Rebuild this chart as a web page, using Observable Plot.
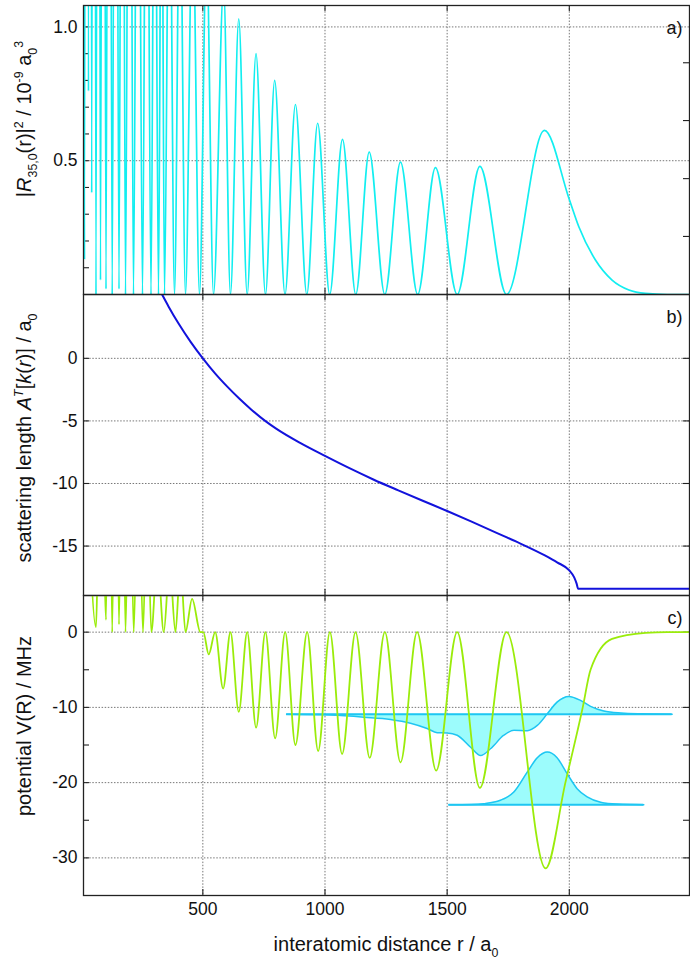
<!DOCTYPE html>
<html>
<head>
<meta charset="utf-8">
<script src="https://cdn.jsdelivr.net/npm/d3@7"></script>
<script src="https://cdn.jsdelivr.net/npm/@observablehq/plot@0.6"></script>
<style>
  body { margin: 0; background: #fff; }
  #chart { width: 690px; height: 960px; }
  #chart svg { display: block; overflow: visible; }
</style>
</head>
<body>
<div id="chart"></div>
<script>
// ---- shared x axis (interatomic distance r in a0) ----
const xDomain = [11.5, 2492];
const xTicks = [500, 1000, 1500, 2000];

// ---- a) |R_35,0(r)|^2 : extrema of the radial density (r, value) ----
const radialR = [11, 15.6, 24, 31.9, 38, 45, 54, 62.6, 72, 81, 92, 103.6, 116, 129, 143, 156.8, 170, 183.4,
  200, 216.1, 234, 253, 270, 287.8, 303, 318.5, 331, 343, 363, 384, 406, 429, 458, 486.3, 515, 543.6,
  585, 613, 647, 681.5, 717.6, 756.4, 794, 836.3, 879, 925.5, 970, 1019.2, 1071.6, 1126, 1181, 1244.8,
  1309, 1379.4, 1452, 1541.1, 1634, 1743, 1898, 2000, 2039, 2107, 2175, 2244, 2312, 2400, 2492];
const radialP = [6, 0.13, 7, 0.76, 6.5, 0.38, 6, 0, 5.5, 0.054, 5, 0.02, 4.5, 0, 4, 0.02, 3.6, 0,
  3.2, 0, 2.8, 0, 2.5, 0, 2.2, 0, 2.0, 0, 1.8, 0, 1.6, 0, 1.45, 0, 1.3, 0,
  1.15, 0, 1.03, 0, 0.90, 0, 0.80, 0, 0.71, 0, 0.64, 0, 0.58, 0, 0.532, 0,
  0.495, 0, 0.474, 0, 0.479, 0, 0.613, 0.355, 0.253, 0.129, 0.054, 0.017, 0.004, 0, 0];
const aTicksLabeled = [0.5, 1.0];
const aTicksLeft = [0.1, 0.2, 0.3, 0.4, 0.5, 0.6, 0.7, 0.8, 0.9, 1.0];
const aTicksRight = [0.217, 0.433, 0.65, 0.866];

// ---- b) scattering length A^T[k(r)] in a0 ----
const scatR = [333, 360, 400, 450, 500, 550, 600, 650, 700, 755, 800, 900, 1000, 1100, 1200, 1300,
  1400, 1500, 1600, 1700, 1800, 1900, 1950, 2000, 2020, 2030, 2036, 2492];
const scatA = [5.1, 4.13, 2.8, 1.32, 0, -1.2, -2.26, -3.23, -4.12, -5.0, -5.62, -6.78, -7.8, -8.78, -9.7, -10.55,
  -11.38, -12.2, -13.05, -13.92, -14.8, -15.75, -16.3, -16.95, -17.5, -18.0, -18.41, -18.41];
const bTicks = [0, -5, -10, -15];

// ---- c) potential V(R) in MHz, extrema and shoulder points ----
const potR = [11, 62.6, 83, 103.6, 116, 129, 143, 156.8, 170, 183.4, 200, 217, 236, 255, 272, 289, 314, 340,
  364, 388, 408, 429, 456, 490, 502, 524, 550.5, 583, 613, 647, 681.5, 718, 756, 796, 837, 879, 927,
  972, 1020, 1070, 1125, 1183, 1245, 1309, 1377, 1455, 1541, 1634, 1743, 1903, 1984, 2055, 2087,
  2175, 2312, 2400, 2492];
const potV = [40, 0.66, 40, 1.64, 40, 0, 40, 1.02, 35, 0, 30, 0, 25, 0, 20, 0, 10, 0,
  9, 0, 9, 0, 4.43, 0, 0, -2.95, 0, -7.5, 0, -10.6, 0, -12.7, 0, -14.1, 0, -15.0, 0,
  -15.8, 0, -16.2, 0, -16.7, 0, -17.3, 0, -18.4, 0, -20.7, 0, -31.4, -20, -10, -5,
  -0.9, -0.1, 0, 0];
const cTicksLabeled = [0, -10, -20, -30];
const cTicksAll = [0, -5, -10, -15, -20, -25, -30];

// wave packets drawn on top of the potential, each about its own energy level
const packet1Level = -10.9;
const packet1R = [843, 1022, 1159, 1268, 1350, 1418, 1459, 1500, 1541, 1596, 1637, 1677, 1732, 1773,
  1828, 1869, 1910, 1950, 1998, 2046, 2087, 2141, 2210, 2292, 2421];
const packet1V = [-10.9, -11.02, -11.3, -11.6, -12.1, -12.8, -13.36, -13.4, -13.7, -15.3, -16.4, -15.5, -13.7, -13.05,
  -13.1, -12.4, -10.85, -9.3, -8.54, -9.07, -9.87, -10.49, -10.75, -10.85, -10.9];
const packet2Level = -22.93;
const packet2R = [1507, 1600, 1650, 1718, 1773, 1828, 1869, 1910, 1950, 1991, 2032, 2073, 2128, 2196, 2305];
const packet2V = [-22.93, -22.9, -22.8, -22.35, -21.25, -18.6, -16.7, -15.94, -16.7, -18.8, -20.8, -21.9, -22.6, -22.85, -22.93];

// ---- styling ----
const FONT = "'Liberation Sans', Arial, Helvetica, sans-serif";
const W = 690, ML = 83, MR = 1;
const innerW = W - ML - MR;
const gridStyle = {stroke: "#777", strokeOpacity: 1, strokeWidth: 1, strokeDasharray: "1.5,1.6"};
const frameStyle = {stroke: "#222", strokeWidth: 1.3};
const tickStyle = {stroke: "#222", strokeWidth: 1.1};
const TICK = 6;
const TICK_FONT = 17.5, TITLE_FONT = 20;
const plain = d => String(d); // hyphen-minus, no thousands separator

const rows = (xs, ys) => xs.map((x, i) => ({x, y: ys[i]}));

// inward tick marks on every edge of a panel
function edgeTicks(innerH, left, right) {
  return [
    Plot.tickX(xTicks, {x: d => d, insetTop: innerH - TICK, ...tickStyle}),
    Plot.tickX(xTicks, {x: d => d, insetBottom: innerH - TICK, ...tickStyle}),
    Plot.tickY(left, {y: d => d, insetRight: innerW - TICK, ...tickStyle}),
    Plot.tickY(right, {y: d => d, insetLeft: innerW - TICK, ...tickStyle})
  ];
}

function panelLabel(t) {
  return Plot.text([t], {frameAnchor: "top-right", dx: -7, dy: 16, fontSize: 18, fill: "#111", textAnchor: "end"});
}

function yLabels(ticks, fmt) {
  return Plot.axisY({ticks, tickSize: 0, tickPadding: 6, fontSize: TICK_FONT, tickFormat: fmt, label: null, fill: "#111"});
}

// rich text with italics, sub- and superscripts
function richText(sel, parts, size) {
  let shift = 0;
  for (const p of parts) {
    const target = p.sub ? size * 0.3 : p.sup ? -size * 0.42 : 0;
    const ts = sel.append("tspan").attr("dy", target - shift).text(p.t);
    shift = target;
    if (p.sub || p.sup) ts.attr("font-size", size * 0.62);
    if (p.it) ts.attr("font-style", "italic");
  }
}

function rotatedTitle(svg, x, y, parts) {
  const t = d3.select(svg).append("text")
    .attr("transform", `translate(${x},${y}) rotate(-90)`)
    .attr("text-anchor", "middle")
    .attr("font-family", FONT)
    .attr("font-size", TITLE_FONT)
    .attr("fill", "#111");
  richText(t, parts, TITLE_FONT);
}

const chart = document.getElementById("chart");

// ---- panel a ----
const hA = 294, mtA = 5;
const plotA = Plot.plot({
  width: W, height: hA, marginTop: mtA, marginBottom: 0, marginLeft: ML, marginRight: MR,
  style: {fontFamily: FONT, fontSize: "17px", background: "transparent"},
  x: {domain: xDomain, axis: null},
  y: {domain: [0, 1.08], axis: null},
  marks: [
    Plot.gridX(xTicks, gridStyle),
    Plot.gridY(aTicksLabeled, gridStyle),
    ...edgeTicks(hA - mtA, aTicksLeft, aTicksRight),
    Plot.line(rows(radialR, radialP), {x: "x", y: "y", curve: "monotone-x", stroke: "#12eef0", strokeWidth: 1.7, clip: true}),
    Plot.frame(frameStyle),
    yLabels(aTicksLabeled, d3.format(".1f")),
    panelLabel("a)")
  ]
});
rotatedTitle(plotA, 31, 119, [
  {t: "|"}, {t: "R", it: true}, {t: "35,0", sub: true}, {t: "(r)|"}, {t: "2", sup: true},
  {t: " / 10"}, {t: "-9", sup: true}, {t: " a"}, {t: "0", sub: true}, {t: "3", sup: true}
]);
chart.appendChild(plotA);

// ---- panel b ----
const hB = 301;
const plotB = Plot.plot({
  width: W, height: hB, marginTop: 0, marginBottom: 0, marginLeft: ML, marginRight: MR,
  style: {fontFamily: FONT, fontSize: "17px", background: "transparent"},
  x: {domain: xDomain, axis: null},
  y: {domain: [-18.95, 5.1], axis: null},
  marks: [
    Plot.gridX(xTicks, gridStyle),
    Plot.gridY(bTicks, gridStyle),
    ...edgeTicks(hB, bTicks, bTicks),
    Plot.line(rows(scatR, scatA), {x: "x", y: "y", curve: "monotone-x", stroke: "#1212dc", strokeWidth: 2, clip: true}),
    Plot.frame(frameStyle),
    yLabels(bTicks, plain),
    panelLabel("b)")
  ]
});
rotatedTitle(plotB, 31, 144, [
  {t: "scattering length "}, {t: "A", it: true}, {t: "T", sup: true, it: true}, {t: "["},
  {t: "k", it: true}, {t: "("}, {t: "r", it: true}, {t: ")] / a"}, {t: "0", sub: true}
]);
chart.appendChild(plotB);

// ---- panel c ----
const hC = 365, mbC = 65;
const packetFill = "#9cfcfc", packetStroke = "#1ec6f2";
const plotC = Plot.plot({
  width: W, height: hC, marginTop: 0, marginBottom: mbC, marginLeft: ML, marginRight: MR,
  style: {fontFamily: FONT, fontSize: "17px", background: "transparent"},
  x: {domain: xDomain, axis: null},
  y: {domain: [-35, 4.87], axis: null},
  marks: [
    Plot.gridX(xTicks, gridStyle),
    Plot.gridY(cTicksLabeled, gridStyle),
    ...edgeTicks(hC - mbC, cTicksAll, cTicksAll),
    // wave packets: filled between the curve and its level
    Plot.areaY(rows(packet1R, packet1V), {x: "x", y1: () => packet1Level, y2: "y", curve: "monotone-x", fill: packetFill}),
    Plot.areaY(rows(packet2R, packet2V), {x: "x", y1: () => packet2Level, y2: "y", curve: "monotone-x", fill: packetFill}),
    Plot.ruleY([packet1Level], {x1: packet1R[0], x2: packet1R[packet1R.length - 1], stroke: packetStroke, strokeWidth: 2}),
    Plot.ruleY([packet2Level], {x1: packet2R[0], x2: packet2R[packet2R.length - 1], stroke: packetStroke, strokeWidth: 2}),
    Plot.line(rows(packet1R, packet1V), {x: "x", y: "y", curve: "monotone-x", stroke: packetStroke, strokeWidth: 1.5}),
    Plot.line(rows(packet2R, packet2V), {x: "x", y: "y", curve: "monotone-x", stroke: packetStroke, strokeWidth: 1.5}),
    // potential
    Plot.line(rows(potR, potV), {x: "x", y: "y", curve: "monotone-x", stroke: "#9aec0a", strokeWidth: 1.8, clip: true}),
    Plot.frame(frameStyle),
    yLabels(cTicksLabeled, plain),
    Plot.axisX({ticks: xTicks, tickSize: 0, tickPadding: 7, fontSize: TICK_FONT, tickFormat: plain, label: null, fill: "#111"}),
    panelLabel("c)")
  ]
});
rotatedTitle(plotC, 31, 131, [{t: "potential V(R) / MHz"}]);
{
  const t = d3.select(plotC).append("text")
    .attr("x", 386).attr("y", 356)
    .attr("text-anchor", "middle")
    .attr("font-family", FONT)
    .attr("font-size", TITLE_FONT)
    .attr("fill", "#111");
  richText(t, [{t: "interatomic distance r / a"}, {t: "0", sub: true}], TITLE_FONT);
}
chart.appendChild(plotC);
</script>
</body>
</html>
